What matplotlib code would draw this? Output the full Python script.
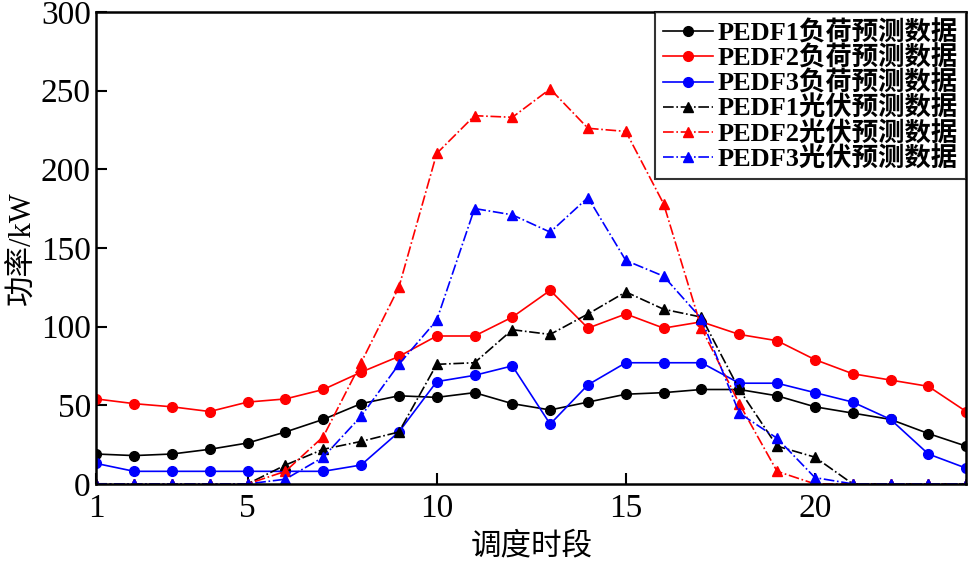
import matplotlib
matplotlib.use('Agg')
import matplotlib.pyplot as plt

plt.rcParams['font.family'] = ['Liberation Serif', 'Noto Sans CJK SC']

# 调度时段
periods = list(range(1, 25))

# 负荷预测数据
load_pedf1 = [19, 18, 19, 22, 26, 33, 41, 51, 56, 55, 58, 51, 47, 52, 57, 58, 60, 60, 56, 49, 45, 41, 32, 24]
load_pedf2 = [54, 51, 49, 46, 52, 54, 60, 71, 81, 94, 94, 106, 123, 99, 108, 99, 103, 95, 91, 79, 70, 66, 62, 46]
load_pedf3 = [13, 8, 8, 8, 8, 8, 8, 12, 33, 65, 69, 75, 38, 63, 77, 77, 77, 64, 64, 58, 52, 41, 19, 10]

# 光伏预测数据
pv_pedf1 = [0, 0, 0, 0, 0, 12, 22, 27, 33, 76, 77, 98, 95, 108, 122, 111, 106, 60, 24, 17, 0, 0, 0, 0]
pv_pedf2 = [0, 0, 0, 0, 0, 8, 30, 77, 125, 210, 234, 233, 251, 226, 224, 178, 99, 51, 8, 0, 0, 0, 0, 0]
pv_pedf3 = [0, 0, 0, 0, 0, 3, 17, 43, 76, 104, 175, 171, 160, 182, 142, 132, 105, 45, 29, 4, 0, 0, 0, 0]

fig = plt.figure(figsize=(9.73, 5.64), dpi=100)
ax = fig.add_axes([0.099, 0.142, 0.894, 0.837])

ms = 7
ax.plot(periods, load_pedf1, color='black', marker='o', ms=ms, lw=1.2, label='PEDF1负荷预测数据')
ax.plot(periods, load_pedf2, color='red', marker='o', ms=ms, lw=1.2, label='PEDF2负荷预测数据')
ax.plot(periods, load_pedf3, color='blue', marker='o', ms=ms, lw=1.2, label='PEDF3负荷预测数据')
ax.plot(periods, pv_pedf1, color='black', marker='^', ms=ms, lw=1.2, ls='-.', label='PEDF1光伏预测数据')
ax.plot(periods, pv_pedf2, color='red', marker='^', ms=ms, lw=1.2, ls='-.', label='PEDF2光伏预测数据')
ax.plot(periods, pv_pedf3, color='blue', marker='^', ms=ms, lw=1.2, ls='-.', label='PEDF3光伏预测数据')

ax.set_xlim(1, 24)
ax.set_ylim(0, 300)
ax.set_xticks([1, 5, 10, 15, 20])
ax.set_yticks([0, 50, 100, 150, 200, 250, 300])
ax.tick_params(direction='in', length=8, width=1.5, labelsize=24)
ax.tick_params(axis='x', pad=7)
ax.tick_params(axis='y', pad=4)
for s in ax.spines.values():
    s.set_linewidth(1.8)

ax.set_xlabel('调度时段', fontsize=22, labelpad=6)
ax.set_ylabel('功率/kW', fontsize=22, labelpad=2)

leg = ax.legend(loc='upper right', borderaxespad=0, handlelength=1.9,
                handletextpad=0.2, labelspacing=0.0, frameon=True, fancybox=False,
                borderpad=0.3, prop={'family': ['Liberation Serif', 'Noto Sans CJK SC'],
                                     'weight': 'bold', 'size': 19})
leg.get_frame().set_edgecolor('black')
leg.get_frame().set_linewidth(1.5)

fig.savefig('out.png', dpi=100)
